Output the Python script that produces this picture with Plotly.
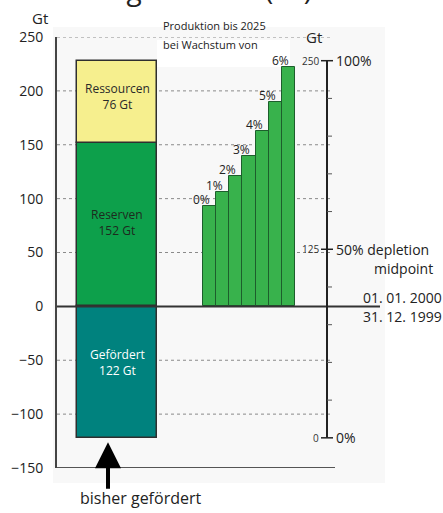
import plotly.graph_objects as go

# ---------------- data ----------------
stack_names = ["Gefördert", "Reserven", "Ressourcen"]
stack_values = [-122, 152, 76]            # Gt
stack_labels = ["Gefördert<br>122 Gt", "Reserven<br>152 Gt", "Ressourcen<br>76 Gt"]
stack_colors = ["#00827E", "#0DA04B", "#F6EF8E"]
stack_text_colors = ["#ffffff", "#1e2a1e", "#2a2a2a"]

growth_labels = ["0%", "1%", "2%", "3%", "4%", "5%", "6%"]
production_2025 = [93, 106, 121, 140, 163, 190, 222]   # Gt

left_ticks = [250, 200, 150, 100, 50, 0, -50, -100, -150]
grid_values = [250, 200, 150, 100, 50, -50, -100]
right_major = [0, 125, 250]
right_major_labels = ["0%", "50% depletion", "100%"]
right_minor = [25, 50, 75, 100, 150, 175, 200, 225]

# ---------------- geometry helpers (pixels -> paper) ----------------
W, H = 443, 513
L, T, R, B = 57, 37, 0, 45
PW, PH = W - L - R, H - T - B
def px(x):
    return (x - L) / PW
def py(y):
    return (H - B - y) / PH

FONT = "Open Sans"
fig = go.Figure()

# stacked reference bar
base = 0
for i, (name, v, col) in enumerate(zip(stack_names, stack_values, stack_colors)):
    b = 0 if v < 0 else base
    fig.add_trace(go.Bar(x=[60], y=[v], base=[b], width=[80], name=name,
                         marker=dict(color=col, line=dict(color="#2f2f2f", width=1.5)),
                         showlegend=False, hoverinfo="skip"))
    if v > 0:
        base += v

# production bars
bw = 92 / len(production_2025)
xs = [146 + bw / 2 + i * bw for i in range(len(production_2025))]
fig.add_trace(go.Bar(x=xs, y=production_2025, width=[bw] * len(xs),
                     marker=dict(color="#38B24C", line=dict(color="#1d5e2c", width=1)),
                     showlegend=False, hoverinfo="skip"))

shapes = []
# faint background
shapes.append(dict(type="rect", xref="paper", yref="paper", x0=px(53), x1=px(385),
                   y0=py(483), y1=py(27), fillcolor="#f8f8f8", line=dict(width=0), layer="below"))
shapes.append(dict(type="rect", xref="paper", yref="paper", x0=px(157), x1=px(290),
                   y0=py(67), y1=py(40), fillcolor="#ffffff", line=dict(width=0), layer="below"))
# dotted gridlines
for g in grid_values:
    shapes.append(dict(type="line", xref="x", yref="y", x0=0, x1=276, y0=g, y1=g,
                       line=dict(color="#8a8a8a", width=1, dash="dot"), layer="below"))
# zero line and bottom line
shapes.append(dict(type="line", xref="x", yref="y", x0=0, x1=323, y0=0, y1=0,
                   line=dict(color="#333333", width=2)))
shapes.append(dict(type="line", xref="x", yref="y", x0=0, x1=278, y0=-150, y1=-150,
                   line=dict(color="#555555", width=2)))
# right axis
shapes.append(dict(type="line", xref="x", yref="y2", x0=270, x1=270, y0=0, y1=250,
                   line=dict(color="#222222", width=2)))
for m in right_major:
    shapes.append(dict(type="line", xref="x", yref="y2", x0=264, x1=276, y0=m, y1=m,
                       line=dict(color="#222222", width=1.5)))
for m in right_minor:
    shapes.append(dict(type="line", xref="x", yref="y2", x0=270, x1=275, y0=m, y1=m,
                       line=dict(color="#555555", width=1)))

def text(x, y, s, size, color="#222222", xanchor="center", yanchor="middle", xref="paper", yref="paper", **kw):
    return dict(x=x, y=y, xref=xref, yref=yref, text=s, showarrow=False,
                xanchor=xanchor, yanchor=yanchor,
                font=dict(size=size, color=color, family=FONT), **kw)

ann = []
# stack labels (label centre offsets in Gt)
label_offsets = [9, 2, 5]
cum = 0
for v, lab, tc, off in zip(stack_values, stack_labels, stack_text_colors, label_offsets):
    if v < 0:
        yc = v / 2 + off
    else:
        yc = cum + v / 2 + off
        cum += v
    ann.append(text(60, yc, lab, 12, tc, xref="x", yref="y"))
# growth labels
for xv, v, lab in zip(xs, production_2025, growth_labels):
    ann.append(text(xv - 8, v, lab, 12, yanchor="bottom", xref="x", yref="y", yshift=-4))
# right axis texts
for m, lab in zip(right_major, right_major_labels):
    ann.append(text(px(321), m, str(m), 10, "#333333", xanchor="right", yref="y2"))
    ann.append(text(px(334), m, lab, 14, xanchor="left", yref="y2"))
ann.append(text(px(403), py(268), "midpoint", 14))
ann.append(text(px(402), py(297), "01. 01. 2000", 14))
ann.append(text(px(402), py(316), "31. 12. 1999", 14))
ann.append(text(px(314), py(37), "Gt", 15))
# left texts
ann.append(text(px(40), py(18), "Gt", 15))
ann.append(text(px(161), py(25), "Produktion bis 2025", 11, xanchor="left"))
ann.append(text(px(161), py(44), "bei Wachstum von", 11, xanchor="left"))
ann.append(text(px(140), py(498), "bisher gefördert", 16))
# arrow
ann.append(dict(x=51, y=-126, xref="x", yref="y", text="", showarrow=True, ax=0, ay=48,
                arrowhead=2, arrowsize=1.3, arrowwidth=4, arrowcolor="#000000"))
# cropped title
ann.append(text(px(314), py(10), "Erdölförderung weltweit (Gt)", 28, xanchor="right", yanchor="bottom"))

fig.update_layout(
    width=W, height=H, margin=dict(l=L, r=R, t=T, b=B),
    paper_bgcolor="white", plot_bgcolor="rgba(0,0,0,0)",
    barmode="overlay", bargap=0,
    xaxis=dict(range=[0, PW], visible=False, fixedrange=True),
    yaxis=dict(range=[-150, 250], tickvals=left_ticks, showgrid=False, zeroline=False,
               showline=True, linecolor="#444444", linewidth=2, ticks="",
               ticklabelstandoff=9, tickfont=dict(size=14, color="#222222", family=FONT)),
    yaxis2=dict(range=[(-150 - stack_values[0]) / (sum(abs(v) for v in stack_values) / 250),
                       (250 - stack_values[0]) / (sum(abs(v) for v in stack_values) / 250)],
                overlaying="y", visible=False),
    shapes=shapes, annotations=ann, showlegend=False,
    font=dict(family=FONT),
)
fig.write_html("out.html", config={"displayModeBar": False},
               post_script="document.body.style.margin='0';document.body.style.padding='0';")
